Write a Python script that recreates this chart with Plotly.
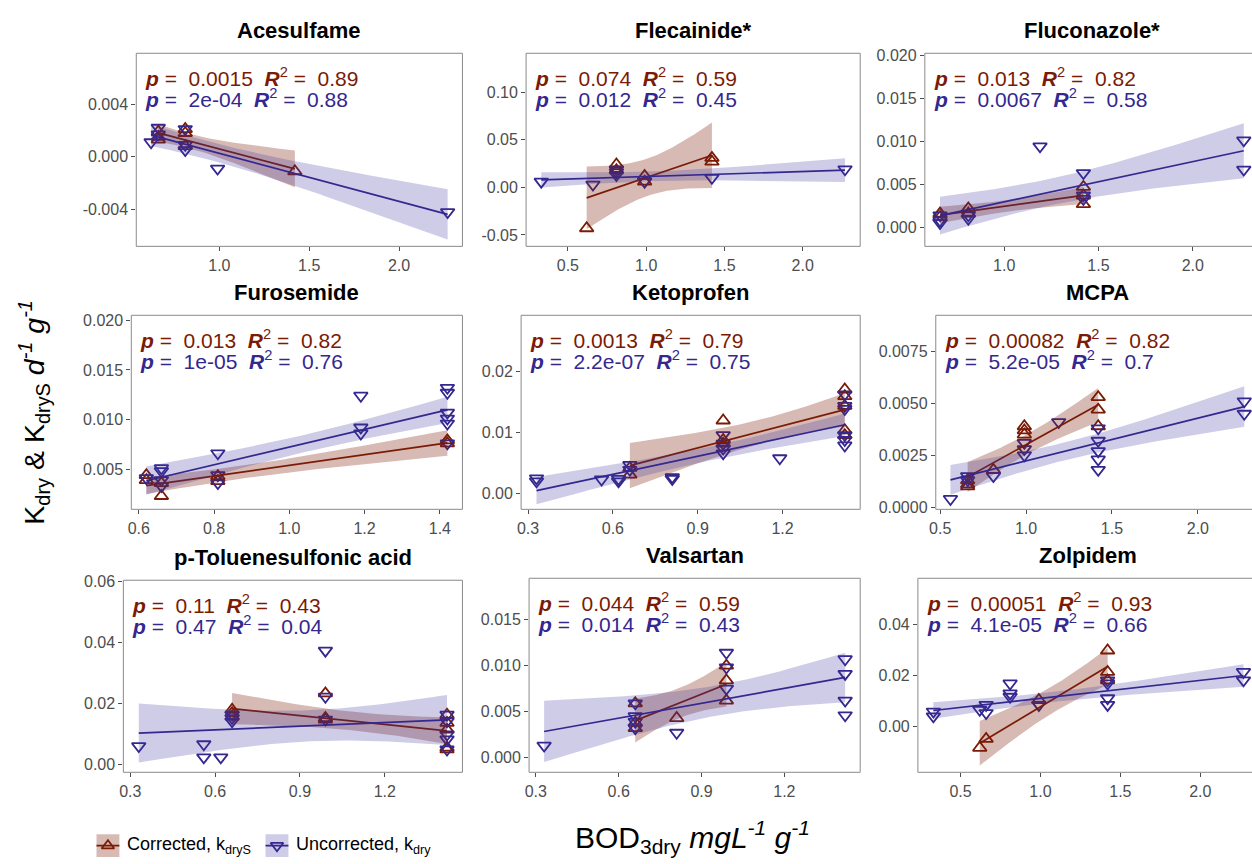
import numpy as np
import plotly.graph_objects as go

W, H = 1252, 864
FONT = "Liberation Sans, Arial, sans-serif"
RED = "#7B1B05"
BLUE = "#34278F"
RED_FILL = "rgba(123,27,5,0.30)"
BLUE_FILL = "rgba(60,50,160,0.25)"
TICK_SIZE = 16
STAT_SIZE = 21
TITLE_SIZE = 22
MARKER_SIZE = 12

# ---------------- data ----------------
titles = ["Acesulfame", "Flecainide*", "Fluconazole*", "Furosemide", "Ketoprofen",
          "MCPA", "p-Toluenesulfonic acid", "Valsartan", "Zolpidem"]

ace_corr_x = [0.66, 0.66, 0.66, 0.81, 0.81, 0.81, 1.42]
ace_corr_y = [0.0019, 0.0013, 0.0015, 0.0021, 0.0018, 0.0008, -0.0011]
ace_unc_x = [0.62, 0.66, 0.66, 0.81, 0.81, 0.81, 0.99, 2.27]
ace_unc_y = [0.0011, 0.0022, 0.0017, 0.0021, 0.0009, 0.0005, -0.0009, -0.0042]

fle_corr_x = [0.62, 0.81, 0.81, 0.99, 0.99, 1.42, 1.42]
fle_corr_y = [-0.043, 0.024, 0.018, 0.012, 0.006, 0.031, 0.027]
fle_unc_x = [0.33, 0.66, 0.81, 0.81, 0.81, 0.99, 1.42, 2.27]
fle_unc_y = [0.006, 0.003, 0.019, 0.016, 0.013, 0.006, 0.010, 0.019]

flu_corr_x = [0.66, 0.66, 0.81, 0.81, 1.42, 1.42, 1.42]
flu_corr_y = [0.0016, 0.0012, 0.0022, 0.0016, 0.0047, 0.0037, 0.0027]
flu_unc_x = [0.66, 0.66, 0.66, 0.81, 0.81, 1.19, 1.42, 1.42, 1.42, 2.27, 2.27]
flu_unc_y = [0.0014, 0.0008, 0.0005, 0.0014, 0.0010, 0.0094, 0.0063, 0.0037, 0.0033, 0.0101, 0.0067]

fur_corr_x = [0.62, 0.62, 0.66, 0.66, 0.81, 0.81, 1.42, 1.42]
fur_corr_y = [0.0044, 0.0039, 0.0036, 0.0023, 0.0043, 0.0038, 0.0079, 0.0076]
fur_unc_x = [0.62, 0.66, 0.66, 0.66, 0.66, 0.81, 0.81, 0.81, 1.19, 1.19, 1.19,
             1.42, 1.42, 1.42, 1.42, 1.42, 1.42]
fur_unc_y = [0.0041, 0.0051, 0.0048, 0.0039, 0.0033, 0.0066, 0.0044, 0.0036, 0.0124, 0.0092, 0.0086,
             0.0132, 0.0127, 0.0107, 0.0101, 0.0096, 0.0076]

ket_corr_x = [0.66, 0.66, 0.99, 0.99, 0.99, 1.42, 1.42, 1.42, 1.42, 1.42]
ket_corr_y = [0.0042, 0.0031, 0.0120, 0.0088, 0.0082, 0.0171, 0.0160, 0.0144, 0.0104, 0.0096]
ket_unc_x = [0.33, 0.33, 0.56, 0.62, 0.62, 0.66, 0.66, 0.81, 0.81, 0.99, 0.99, 0.99, 0.99,
             1.19, 1.42, 1.42, 1.42, 1.42, 1.42, 1.42]
ket_unc_y = [0.0025, 0.0020, 0.0023, 0.0024, 0.0020, 0.0047, 0.0039, 0.0027, 0.0024, 0.0096, 0.0082,
             0.0074, 0.0066, 0.0058, 0.0163, 0.0144, 0.0139, 0.0096, 0.0088, 0.0079]

mcp_corr_x = [0.66, 0.66, 0.66, 0.81, 0.99, 0.99, 0.99, 1.42, 1.42, 1.42]
mcp_corr_y = [0.0013, 0.0011, 0.0010, 0.0018, 0.0039, 0.0037, 0.0035, 0.0053, 0.0047, 0.0039]
mcp_unc_x = [0.56, 0.66, 0.66, 0.81, 0.99, 0.99, 0.99, 1.19, 1.42, 1.42, 1.42, 1.42, 1.42, 2.27, 2.27]
mcp_unc_y = [0.0004, 0.0015, 0.0013, 0.0015, 0.0031, 0.0028, 0.0025, 0.0041, 0.0038, 0.0032, 0.0027,
             0.0023, 0.0018, 0.0051, 0.0045]

pts_corr_x = [0.66, 0.66, 0.66, 0.99, 0.99, 0.99, 1.42, 1.42, 1.42, 1.42, 1.42]
pts_corr_y = [0.0180, 0.0169, 0.0158, 0.0234, 0.0153, 0.0148, 0.0164, 0.0137, 0.0115, 0.0056, 0.0050]
pts_unc_x = [0.33, 0.56, 0.56, 0.62, 0.66, 0.66, 0.66, 0.99, 0.99, 0.99, 1.42, 1.42, 1.42, 1.42, 1.42]
pts_unc_y = [0.0061, 0.0067, 0.0024, 0.0024, 0.0164, 0.0153, 0.0142, 0.0374, 0.0223, 0.0148,
             0.0164, 0.0142, 0.0099, 0.0083, 0.0050]

val_corr_x = [0.66, 0.66, 0.66, 0.81, 0.99, 0.99, 0.99]
val_corr_y = [0.0059, 0.0038, 0.0032, 0.0043, 0.0100, 0.0084, 0.0062]
val_unc_x = [0.33, 0.66, 0.66, 0.66, 0.66, 0.81, 0.99, 0.99, 0.99, 1.42, 1.42, 1.42, 1.42]
val_unc_y = [0.0013, 0.0059, 0.0045, 0.0039, 0.0032, 0.0027, 0.0114, 0.0098, 0.0075,
             0.0107, 0.0091, 0.0062, 0.0046]

zol_corr_x = [0.62, 0.66, 0.99, 1.42, 1.42, 1.42]
zol_corr_y = [-0.0084, -0.0049, 0.0103, 0.0297, 0.0213, 0.0180]
zol_unc_x = [0.33, 0.33, 0.62, 0.66, 0.66, 0.81, 0.81, 0.81, 0.99, 1.42, 1.42, 1.42, 1.42, 2.27, 2.27]
zol_unc_y = [0.0058, 0.0039, 0.0065, 0.0084, 0.0052, 0.0168, 0.0129, 0.0116, 0.0084,
             0.0180, 0.0168, 0.0110, 0.0084, 0.0213, 0.0180]

# p-value / R2 labels (corrected, uncorrected)
p_corr = ["0.0015", "0.074", "0.013", "0.013", "0.0013", "0.00082", "0.11", "0.044", "0.00051"]
r2_corr = ["0.89", "0.59", "0.82", "0.82", "0.79", "0.82", "0.43", "0.59", "0.93"]
p_unc = ["2e-04", "0.012", "0.0067", "1e-05", "2.2e-07", "5.2e-05", "0.47", "0.014", "4.1e-05"]
r2_unc = ["0.88", "0.45", "0.58", "0.76", "0.75", "0.7", "0.04", "0.43", "0.66"]

# tick labels
x_ticks = [["1.0", "1.5", "2.0"], ["0.5", "1.0", "1.5", "2.0"], ["1.0", "1.5", "2.0"],
           ["0.6", "0.8", "1.0", "1.2", "1.4"], ["0.3", "0.6", "0.9", "1.2"], ["0.5", "1.0", "1.5", "2.0"],
           ["0.3", "0.6", "0.9", "1.2"], ["0.3", "0.6", "0.9", "1.2"], ["0.5", "1.0", "1.5", "2.0"]]
y_ticks = [["-0.004", "0.000", "0.004"], ["-0.05", "0.00", "0.05", "0.10"],
           ["0.000", "0.005", "0.010", "0.015", "0.020"], ["0.005", "0.010", "0.015", "0.020"],
           ["0.00", "0.01", "0.02"], ["0.0000", "0.0025", "0.0050", "0.0075"],
           ["0.00", "0.02", "0.04", "0.06"], ["0.000", "0.005", "0.010", "0.015"],
           ["0.00", "0.02", "0.04"]]

series = [(ace_corr_x, ace_corr_y, ace_unc_x, ace_unc_y),
          (fle_corr_x, fle_corr_y, fle_unc_x, fle_unc_y),
          (flu_corr_x, flu_corr_y, flu_unc_x, flu_unc_y),
          (fur_corr_x, fur_corr_y, fur_unc_x, fur_unc_y),
          (ket_corr_x, ket_corr_y, ket_unc_x, ket_unc_y),
          (mcp_corr_x, mcp_corr_y, mcp_unc_x, mcp_unc_y),
          (pts_corr_x, pts_corr_y, pts_unc_x, pts_unc_y),
          (val_corr_x, val_corr_y, val_unc_x, val_unc_y),
          (zol_corr_x, zol_corr_y, zol_unc_x, zol_unc_y)]

# ---------------- layout geometry (pixels: left, right, top, bottom) ----------------
panel_px = [(130, 458, 47, 243), (522, 858, 47, 243), (923, 1259, 47, 243),
            (125, 458, 313, 510), (517, 858, 313, 510), (934, 1259, 313, 510),
            (117, 458, 582, 777), (525, 858, 580, 777), (916, 1259, 580, 777)]
y_ranges = [(-0.0068, 0.00785), (-0.062, 0.141), (-0.0022, 0.0202),
            (0.00096, 0.0205), (-0.0026, 0.0293), (-0.0001, 0.00924),
            (-0.0025, 0.0605), (-0.0016, 0.0195), (-0.018, 0.058)]


def tcrit(df):
    z = 1.959964
    g1 = (z**3 + z) / 4
    g2 = (5 * z**5 + 16 * z**3 + 3 * z) / 96
    g3 = (3 * z**7 + 19 * z**5 + 17 * z**3 - 15 * z) / 384
    g4 = (79 * z**9 + 776 * z**7 + 1482 * z**5 - 1920 * z**3 - 945 * z) / 92160
    return z + g1 / df + g2 / df**2 + g3 / df**3 + g4 / df**4


def fit_band(x, y, n=80):
    x = np.asarray(x, float)
    y = np.asarray(y, float)
    nobs = len(x)
    xm, ym = x.mean(), y.mean()
    sxx = ((x - xm) ** 2).sum()
    b = ((x - xm) * (y - ym)).sum() / sxx
    a = ym - b * xm
    df = nobs - 2
    s = np.sqrt(((y - a - b * x) ** 2).sum() / df)
    xs = np.linspace(x.min(), x.max(), n)
    yh = a + b * xs
    se = s * np.sqrt(1 / nobs + (xs - xm) ** 2 / sxx)
    t = tcrit(df)
    return xs, yh, yh - t * se, yh + t * se


fig = go.Figure()
shapes = []
annotations = []
layout_axes = {}

for i, (cx, cy, ux, uy) in enumerate(series):
    k = i + 1
    suffix = "" if k == 1 else str(k)
    xa, ya = "x" + suffix, "y" + suffix
    l, r, t, b = panel_px[i]
    allx = cx + ux
    xmin, xmax = min(allx), max(allx)
    rng = xmax - xmin
    x0, x1 = xmin - 0.05 * rng, xmax + 0.05 * rng
    rvis = min(r, W)
    x1vis = x0 + (x1 - x0) * (rvis - l) / (r - l)

    # points
    fig.add_trace(go.Scatter(x=cx, y=cy, mode="markers", xaxis=xa, yaxis=ya, showlegend=False,
                             marker=dict(symbol="triangle-up-open", size=MARKER_SIZE, color=RED,
                                         line=dict(width=1.8, color=RED))))
    fig.add_trace(go.Scatter(x=ux, y=uy, mode="markers", xaxis=xa, yaxis=ya, showlegend=False,
                             marker=dict(symbol="triangle-down-open", size=MARKER_SIZE, color=BLUE,
                                         line=dict(width=1.8, color=BLUE))))
    # smooths
    for (sx, sy, col, fcol) in [(cx, cy, RED, RED_FILL), (ux, uy, BLUE, BLUE_FILL)]:
        xs, yh, lo, hi = fit_band(sx, sy)
        fig.add_trace(go.Scatter(x=np.concatenate([xs, xs[::-1]]), y=np.concatenate([hi, lo[::-1]]),
                                 fill="toself", fillcolor=fcol, line=dict(width=0), mode="lines",
                                 xaxis=xa, yaxis=ya, showlegend=False, hoverinfo="skip"))
        fig.add_trace(go.Scatter(x=xs, y=yh, mode="lines", line=dict(color=col, width=1.7),
                                 xaxis=xa, yaxis=ya, showlegend=False))

    tv_x = [float(v) for v in x_ticks[i]]
    tv_y = [float(v) for v in y_ticks[i]]
    layout_axes["xaxis" + suffix] = dict(
        domain=[l / W, rvis / W], range=[x0, x1vis], anchor=ya, showgrid=False, zeroline=False,
        showline=False, ticks="outside", ticklen=4, tickwidth=1, tickcolor="#4d4d4d",
        tickvals=tv_x, ticktext=x_ticks[i],
        tickfont=dict(size=TICK_SIZE, color="#4d4d4d", family=FONT))
    layout_axes["yaxis" + suffix] = dict(
        domain=[1 - b / H, 1 - t / H], range=list(y_ranges[i]), anchor=xa, showgrid=False,
        zeroline=False, showline=False, ticks="outside", ticklen=4, tickwidth=1, tickcolor="#4d4d4d",
        tickvals=tv_y, ticktext=y_ticks[i],
        tickfont=dict(size=TICK_SIZE, color="#4d4d4d", family=FONT))

    # panel border
    shapes.append(dict(type="rect", xref=f"{xa} domain", yref=f"{ya} domain",
                       x0=0, x1=(r - l) / (rvis - l), y0=0, y1=1,
                       line=dict(color="#8a8a8a", width=1), layer="above"))
    # title
    annotations.append(dict(text=f"<b>{titles[i]}</b>", x=(l + r) / 2 / W, y=1 - (t - 23) / H,
                            xref="paper", yref="paper", showarrow=False, xanchor="center",
                            yanchor="middle", font=dict(size=TITLE_SIZE, color="black", family=FONT)))
    # stats
    for j, (pp, rr, col, dy) in enumerate([(p_corr[i], r2_corr[i], RED, 24),
                                           (p_unc[i], r2_unc[i], BLUE, 45)]):
        txt = f"<b><i>p</i></b> =  {pp}  <b><i>R</i></b><sup>2</sup> =  {rr}"
        annotations.append(dict(text=txt, x=(l + 8) / W, y=1 - (t + dy) / H, xref="paper",
                                yref="paper", showarrow=False, xanchor="left", yanchor="middle",
                                borderpad=0, font=dict(size=STAT_SIZE, color=col, family=FONT)))

# axis titles
annotations.append(dict(text="BOD<sub>3dry</sub> <i>mgL<sup>-1</sup> g<sup>-1</sup></i>",
                        x=689 / W, y=1 - 843 / H, xref="paper", yref="paper", showarrow=False,
                        xanchor="center", yanchor="middle", font=dict(size=30, color="black", family=FONT)))
annotations.append(dict(text="K<sub>dry</sub> &amp; K<sub>dryS</sub> <i>d<sup>-1</sup> g<sup>-1</sup></i>",
                        x=27 / W, y=1 - 411 / H, xref="paper", yref="paper", showarrow=False,
                        textangle=-90, xanchor="center", yanchor="middle",
                        font=dict(size=28.5, color="black", family=FONT)))

# legend (helper axis in pixel units at bottom-left)
layout_axes["xaxis10"] = dict(domain=[0, 400 / W], range=[0, 400], visible=False, anchor="y10",
                              fixedrange=True)
layout_axes["yaxis10"] = dict(domain=[0, 50 / H], range=[864, 814], visible=False, anchor="x10",
                              fixedrange=True)
legend_items = [("Corrected, k<sub>dryS</sub>", RED, RED_FILL, "triangle-up-open", 90),
                ("Uncorrected, k<sub>dry</sub>", BLUE, BLUE_FILL, "triangle-down-open", 260)]
for label, col, fcol, sym, kx in legend_items:
    shapes.append(dict(type="rect", xref="x10", yref="y10", x0=kx, x1=kx + 23, y0=840, y1=863,
                       fillcolor=fcol, line=dict(width=0), layer="below"))
    shapes.append(dict(type="line", xref="x10", yref="y10", x0=kx, x1=kx + 23, y0=851.5, y1=851.5,
                       line=dict(color=col, width=1.7)))
    fig.add_trace(go.Scatter(x=[kx + 11.5], y=[851.5], mode="markers", xaxis="x10", yaxis="y10",
                             showlegend=False, cliponaxis=False,
                             marker=dict(symbol=sym, size=11, color=col, line=dict(width=1.8, color=col))))
    annotations.append(dict(text=label, x=kx + 29, y=851.5, xref="x10", yref="y10", showarrow=False,
                            xanchor="left", yanchor="middle", font=dict(size=18, color="black", family=FONT)))

fig.update_layout(width=W, height=H, margin=dict(l=0, r=0, t=0, b=0), paper_bgcolor="white",
                  plot_bgcolor="rgba(0,0,0,0)", showlegend=False, shapes=shapes,
                  annotations=annotations, font=dict(family=FONT), **layout_axes)

post_js = (
    "var d=document.getElementById('{plot_id}');"
    "d.style.position='fixed';d.style.left='0px';d.style.top='0px';d.style.margin='0px';"
    "document.body.style.margin='0px';document.body.style.padding='0px';"
    "document.body.style.overflow='hidden';document.documentElement.style.overflow='hidden';"
)
fig.write_html("out.html", config={"displayModeBar": False}, post_script=post_js)
